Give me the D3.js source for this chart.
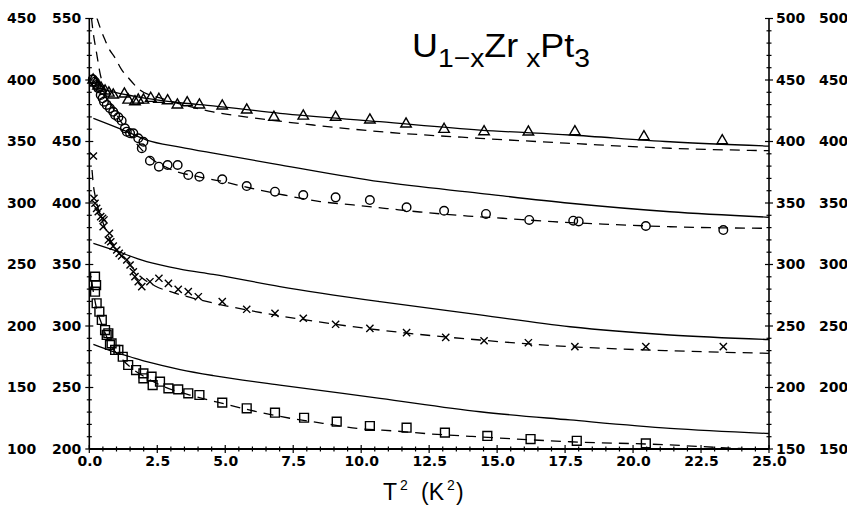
<!DOCTYPE html>
<html><head><meta charset="utf-8">
<script src="https://cdn.jsdelivr.net/npm/d3@7"></script>
<style>body{margin:0;background:#fff}svg{display:block}</style>
</head><body>
<svg id="c" width="847" height="506"></svg>
<script>
// ---------- DATA (T^2 in K^2, value on the inner-left scale 200-550) ----------
const xTickValues = [0, 2.5, 5, 7.5, 10, 12.5, 15, 17.5, 20, 22.5, 25];
const xTickLabels = ["0.0","2.5","5.0","7.5","10.0","12.5","15.0","17.5","20.0","22.5","25.0"];
const leftInnerTicks = [200, 250, 300, 350, 400, 450, 500, 550];
const leftOuterTicks = [100, 150, 200, 250, 300, 350, 400, 450];
const rightTicks = [150, 200, 250, 300, 350, 400, 450, 500];

const triangleData = [[0.14,500.0],[0.23,497.6],[0.32,495.1],[0.43,493.5],[0.58,491.1],[0.72,489.4],[0.88,487.8],[1.29,488.6],[1.43,483.7],[1.68,482.4],[1.80,483.7],[1.99,483.7],[2.26,485.1],[2.56,484.3],[2.88,483.2],[3.24,479.7],[3.60,481.5],[4.05,479.7],[4.89,478.9],[5.79,475.6],[6.79,469.7],[7.87,470.7],[9.06,469.7],[10.32,467.5],[11.65,464.2],[13.05,459.9],[14.52,458.0],[16.15,457.7],[17.86,458.0],[20.40,453.9],[23.28,450.7]];
const circleData = [[0.13,500.6],[0.21,498.6],[0.27,495.9],[0.33,493.3],[0.42,487.8],[0.49,485.1],[0.54,482.4],[0.64,479.7],[0.76,477.0],[0.88,474.2],[0.95,471.5],[1.07,469.7],[1.19,466.9],[1.31,460.7],[1.38,458.0],[1.50,456.7],[1.62,456.7],[1.80,452.6],[1.99,449.8],[1.93,444.5],[2.23,434.4],[2.56,429.5],[2.88,430.9],[3.25,430.9],[3.64,422.8],[4.05,421.4],[4.89,419.3],[5.79,413.8],[6.83,409.2],[7.87,406.5],[9.06,404.6],[10.32,402.4],[11.67,396.5],[13.05,393.7],[14.59,391.1],[16.18,386.2],[17.80,385.6],[18.00,385.0],[20.47,381.3],[23.32,378.0]];
const crossData = [[0.15,438.2],[0.17,403.8],[0.21,399.8],[0.27,395.7],[0.33,392.9],[0.42,388.9],[0.49,387.6],[0.54,386.2],[0.51,380.7],[0.74,375.4],[0.70,369.9],[0.79,368.5],[0.88,365.0],[1.01,361.8],[1.10,359.1],[1.19,356.9],[1.38,353.7],[1.50,349.6],[1.62,344.1],[1.68,340.1],[1.80,336.0],[1.93,332.0],[2.23,336.0],[2.56,338.8],[2.91,334.7],[3.27,329.8],[3.64,327.9],[4.01,323.8],[4.89,319.8],[5.79,313.6],[6.83,310.3],[7.87,306.3],[9.06,301.4],[10.32,298.1],[11.67,294.6],[13.11,290.8],[14.52,288.0],[16.15,286.4],[17.86,283.2],[20.47,283.2],[23.32,283.2]];
const squareData = [[0.21,340.1],[0.25,333.3],[0.21,327.9],[0.27,318.5],[0.37,311.6],[0.46,304.9],[0.58,296.7],[0.64,292.7],[0.70,294.1],[0.76,284.6],[0.82,285.9],[0.95,280.5],[1.07,280.5],[1.23,275.0],[1.43,268.3],[1.72,264.2],[1.99,261.5],[1.99,257.5],[2.29,258.8],[2.33,252.0],[2.60,254.7],[2.91,249.3],[3.27,248.5],[3.64,245.3],[4.05,243.9],[4.89,237.7],[5.79,233.1],[6.83,229.5],[7.90,225.4],[9.10,222.2],[10.32,218.7],[11.67,217.3],[13.08,213.3],[14.64,210.6],[16.23,208.1],[17.93,206.7],[20.47,204.6]];

const triangleSolid = [[0.15,495.0],[0.58,491.9],[2.11,485.1],[3.34,481.5],[4.55,479.0],[7.01,472.9],[10.69,466.1],[14.37,459.3],[17.68,455.3],[21.36,449.8],[25,446.3]];
const triangleDashed = [[0.28,550.4],[0.43,540.6],[0.58,532.5],[0.69,526.8],[0.95,517.9],[1.20,508.0],[1.39,503.0],[1.86,491.9],[2.60,485.4],[3.34,480.5],[4.55,474.0],[5.80,469.9],[8.23,463.4],[10.69,458.0],[14.37,452.6],[17.68,448.5],[21.36,444.5],[25,442.5]];
const circleSolid = [[0.15,468.9],[1.25,459.3],[2.11,451.2],[3.34,445.5],[4.56,440.5],[7.01,431.0],[10.69,417.3],[14.37,407.9],[17.68,399.8],[21.36,392.9],[25,388.4]];
const circleDashed = [[0.08,550.4],[0.14,539.0],[0.21,529.3],[0.28,520.3],[0.39,506.0],[0.54,494.0],[0.72,484.0],[0.95,474.0],[1.20,465.0],[1.50,455.0],[1.86,445.0],[2.23,437.0],[2.97,427.6],[4.07,421.1],[4.81,417.9],[5.91,412.2],[7.16,406.5],[8.49,401.2],[9.70,398.4],[10.95,395.5],[12.16,392.7],[13.93,389.4],[15.21,387.6],[17.05,384.8],[18.89,382.9],[21.36,380.7],[25,379.4]];
const crossSolid = [[0.15,367.2],[0.88,361.8],[2.11,352.3],[3.34,346.3],[4.56,342.0],[7.01,332.1],[10.69,319.8],[14.37,309.0],[17.68,299.4],[21.36,292.7],[25,289.0]];
const crossDashed = [[0.10,426.8],[0.15,414.6],[0.23,404.1],[0.32,395.9],[0.43,388.6],[0.61,378.0],[0.83,367.5],[1.13,358.5],[1.50,349.6],[1.86,340.6],[2.42,332.5],[3.15,326.8],[4.55,318.7],[5.80,313.0],[8.23,304.0],[10.69,296.7],[14.37,288.6],[17.68,283.2],[21.36,279.9],[25,277.8]];
const squareSolid = [[0.15,285.0],[0.88,279.1],[1.50,275.0],[2.11,271.0],[3.34,264.6],[4.56,259.7],[7.01,252.0],[10.69,241.2],[14.37,230.3],[17.68,223.6],[21.36,216.8],[25,212.6]];
const squareDashed = [[0.09,335.8],[0.17,325.2],[0.28,313.0],[0.43,303.3],[0.61,292.7],[0.83,282.9],[1.13,274.8],[1.50,266.7],[2.05,258.5],[2.78,250.4],[3.70,243.9],[4.55,239.0],[6.17,230.3],[7.38,225.0],[8.59,220.9],[9.85,216.8],[11.32,214.5],[12.53,212.3],[14.0,210.3],[17.68,205.9],[21.36,203.3],[22.57,201.9],[23.93,200.4],[25,199.6]];

// ---------- LAYOUT ----------
const W = 847, H = 506;
const X0 = 89.3, X1 = 769, YB = 449, YT = 18.5;
const x = d3.scaleLinear().domain([0, 25]).range([X0, X1]);
const y = d3.scaleLinear().domain([200, 550]).range([YB, YT]);
const yOuter = d3.scaleLinear().domain([100, 450]).range([YB, YT]);
const yRight = d3.scaleLinear().domain([150, 500]).range([YB, YT]);

const svg = d3.select("#c");
svg.append("rect").attr("width", W).attr("height", H).attr("fill", "#fff");
svg.append("defs").append("clipPath").attr("id", "plot")
  .append("rect").attr("x", X0).attr("y", YT).attr("width", X1 - X0).attr("height", YB - YT);

const tickFont = "DejaVu Sans";
function styleAxis(g) {
  g.select(".domain").remove();
  g.selectAll(".tick line").remove();
  g.selectAll("text").attr("font-family", tickFont).attr("font-size", 14)
    .attr("font-weight", "bold").attr("fill", "#000");
}
svg.append("g").attr("transform", `translate(${X0},0)`)
  .call(d3.axisLeft(y).tickValues(leftInnerTicks).tickSize(0).tickPadding(8)).call(styleAxis);
svg.append("g").attr("transform", `translate(${X0},0)`)
  .call(d3.axisLeft(yOuter).tickValues(leftOuterTicks).tickSize(0).tickPadding(53)).call(styleAxis);
svg.append("g").attr("transform", `translate(${X1},0)`)
  .call(d3.axisRight(yRight).tickValues(rightTicks).tickSize(0).tickPadding(7)).call(styleAxis);
svg.append("g").attr("transform", `translate(${X1},0)`)
  .call(d3.axisRight(yRight).tickValues(rightTicks).tickSize(0).tickPadding(50)).call(styleAxis);
svg.append("g").attr("transform", `translate(0,${YB})`)
  .call(d3.axisBottom(x).tickValues(xTickValues).tickSize(0).tickPadding(7)
    .tickFormat((d, i) => xTickLabels[i])).call(styleAxis);

// axis lines and crossing ticks
const ax = svg.append("g").attr("stroke", "#000").attr("fill", "none");
ax.append("line").attr("x1", X0).attr("x2", X0).attr("y1", YT).attr("y2", YB).attr("stroke-width", 1.6);
ax.append("line").attr("x1", X1).attr("x2", X1).attr("y1", YT).attr("y2", YB).attr("stroke-width", 1.6);
ax.append("line").attr("x1", X0).attr("x2", X1).attr("y1", YB).attr("y2", YB).attr("stroke-width", 1.8);
const isMajor = (v, s) => Math.abs(v / s - Math.round(v / s)) < 1e-6;
[[X0, y, 50], [X1, yRight, 50]].forEach(([px, sc, step]) => {
  ax.selectAll(null).data(sc.ticks(35)).enter().append("line")
    .attr("x1", d => px - (isMajor(d, step) ? 4 : 2.5))
    .attr("x2", d => px + (isMajor(d, step) ? 4 : 2.5))
    .attr("y1", d => sc(d)).attr("y2", d => sc(d)).attr("stroke-width", 1.2);
});
ax.selectAll(null).data(x.ticks(50)).enter().append("line")
  .attr("x1", d => x(d)).attr("x2", d => x(d))
  .attr("y1", d => YB - (isMajor(d, 2.5) ? 4 : 2.5))
  .attr("y2", d => YB + (isMajor(d, 2.5) ? 4 : 2.5)).attr("stroke-width", 1.2);

// curves
const plot = svg.append("g").attr("clip-path", "url(#plot)");
const line = d3.line().x(d => x(d[0])).y(d => y(d[1])).curve(d3.curveMonotoneX);
[triangleSolid, circleSolid, crossSolid, squareSolid].forEach(c =>
  plot.append("path").attr("d", line(c)).attr("fill", "none").attr("stroke", "#000").attr("stroke-width", 1.3));
[triangleDashed, circleDashed, crossDashed, squareDashed].forEach(c =>
  plot.append("path").attr("d", line(c)).attr("fill", "none").attr("stroke", "#000")
    .attr("stroke-width", 1.3).attr("stroke-dasharray", "10,7"));

// markers
const mk = svg.append("g").attr("fill", "none").attr("stroke", "#000").attr("stroke-width", 1.4);
mk.selectAll(null).data(triangleData).enter().append("path")
  .attr("d", d3.symbol(d3.symbolTriangle, 48)())
  .attr("transform", d => `translate(${x(d[0])},${y(d[1])})`);
mk.selectAll(null).data(circleData).enter().append("circle")
  .attr("cx", d => x(d[0])).attr("cy", d => y(d[1])).attr("r", 4.3);
mk.selectAll(null).data(squareData).enter().append("path")
  .attr("d", d3.symbol(d3.symbolSquare, 78)())
  .attr("transform", d => `translate(${x(d[0])},${y(d[1])})`);
mk.selectAll(null).data(crossData).enter().append("path")
  .attr("d", "M-3.6,-3.6L3.6,3.6M-3.6,3.6L3.6,-3.6")
  .attr("transform", d => `translate(${x(d[0])},${y(d[1])})`);

// title
const title = svg.append("text").attr("x", 412).attr("y", 57)
  .attr("font-family", "Liberation Sans").attr("font-size", 33).attr("fill", "#000")
  .attr("textLength", 178).attr("lengthAdjust", "spacingAndGlyphs");
title.append("tspan").text("U");
title.append("tspan").attr("font-size", 26).attr("dy", 10).text("1−x");
title.append("tspan").attr("dy", -10).text("Zr");
title.append("tspan").attr("font-size", 26).attr("dy", 10).text(" x");
title.append("tspan").attr("dy", -10).text("Pt");
title.append("tspan").attr("font-size", 26).attr("dy", 10).text("3");

// x-axis title
const xt = svg.append("text").attr("y", 500).attr("font-family", "Liberation Sans")
  .attr("font-size", 23).attr("fill", "#000");
xt.append("tspan").attr("x", 383).text("T");
xt.append("tspan").attr("x", 400).attr("dy", -10).attr("font-size", 14).text("2");
xt.append("tspan").attr("x", 421).attr("dy", 10).text("(K");
xt.append("tspan").attr("x", 447).attr("dy", -10).attr("font-size", 14).text("2");
xt.append("tspan").attr("x", 456).attr("dy", 10).text(")");
</script>
</body></html>
